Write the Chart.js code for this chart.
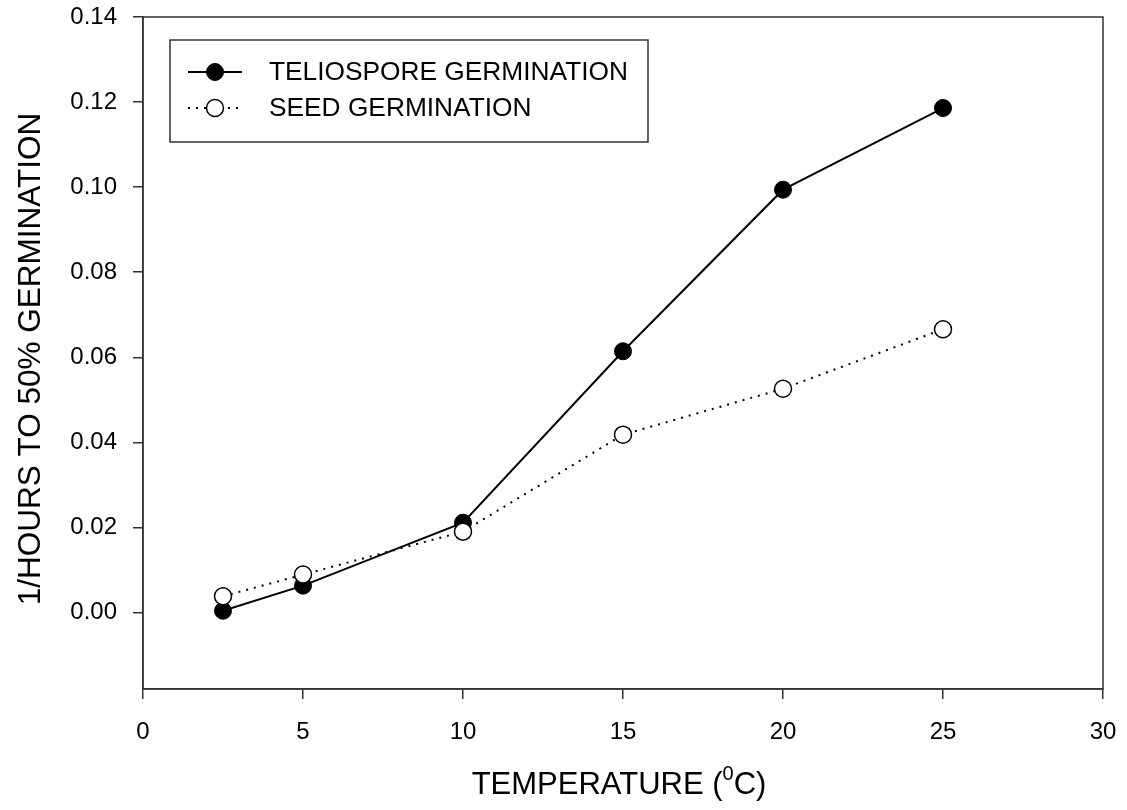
<!DOCTYPE html>
<html>
<head>
<meta charset="utf-8">
<script src="https://cdn.jsdelivr.net/npm/chart.js@4.4.0/dist/chart.umd.min.js"></script>
<style>
html,body{margin:0;padding:0;background:#fff;}
#wrap{width:1127px;height:810px;position:relative;}
</style>
</head>
<body>
<div id="wrap"><canvas id="c" width="1127" height="810"></canvas></div>
<script>
const temperatures = [2.5, 5, 10, 15, 20, 25];
const teliosporeRate = [0.0004, 0.0063, 0.0211, 0.0614, 0.0994, 0.1186];
const seedRate = [0.0038, 0.0089, 0.0190, 0.0418, 0.0526, 0.0666];
const xTicks = [0, 5, 10, 15, 20, 25, 30];
const yTicks = [0.00, 0.02, 0.04, 0.06, 0.08, 0.10, 0.12, 0.14];
const seriesNames = ['TELIOSPORE GERMINATION', 'SEED GERMINATION'];
const xTitle = 'TEMPERATURE (';
const xTitleSup = '0';
const xTitleEnd = 'C)';
const yTitle = '1/HOURS TO 50% GERMINATION';

const FONT = '"Liberation Sans", Arial, sans-serif';
const INK = '#000';
const AXIS = '#333';

const framePlugin = {
  id: 'frame',
  afterDraw(chart) {
    const {ctx, chartArea: a} = chart;
    ctx.save();
    ctx.strokeStyle = AXIS;
    ctx.lineWidth = 1.5;
    ctx.strokeRect(a.left, a.top, a.right - a.left, a.bottom - a.top);

    // axis titles
    ctx.fillStyle = INK;
    ctx.textBaseline = 'middle';
    ctx.font = '31px ' + FONT;
    const w1 = ctx.measureText(xTitle).width;
    ctx.font = '20px ' + FONT;
    const w2 = ctx.measureText(xTitleSup).width;
    ctx.font = '31px ' + FONT;
    const w3 = ctx.measureText(xTitleEnd).width;
    const total = w1 + w2 + w3;
    let x = 619 - total / 2;
    const ty = 785;
    ctx.textAlign = 'left';
    ctx.fillText(xTitle, x, ty);
    x += w1;
    ctx.font = '20px ' + FONT;
    ctx.fillText(xTitleSup, x, ty - 11);
    x += w2;
    ctx.font = '31px ' + FONT;
    ctx.fillText(xTitleEnd, x, ty);

    ctx.save();
    ctx.translate(31, 359);
    ctx.rotate(-Math.PI / 2);
    ctx.textAlign = 'center';
    ctx.font = '31.5px ' + FONT;
    ctx.fillText(yTitle, 0, 0);
    ctx.restore();

    // legend box
    const lx = 170, ly = 40, lw = 478, lh = 102;
    ctx.strokeStyle = AXIS;
    ctx.lineWidth = 1.5;
    ctx.strokeRect(lx, ly, lw, lh);
    const rows = [72, 108];
    chart.data.datasets.forEach((ds, i) => {
      const y = rows[i];
      ctx.save();
      ctx.strokeStyle = ds.borderColor;
      ctx.lineWidth = ds.borderWidth;
      ctx.setLineDash(ds.borderDash || []);
      ctx.beginPath();
      ctx.moveTo(188, y);
      ctx.lineTo(242, y);
      ctx.stroke();
      ctx.setLineDash([]);
      ctx.beginPath();
      ctx.arc(215, y, ds.pointRadius, 0, Math.PI * 2);
      ctx.fillStyle = ds.pointBackgroundColor;
      ctx.fill();
      ctx.lineWidth = ds.pointBorderWidth;
      ctx.strokeStyle = ds.pointBorderColor;
      ctx.stroke();
      ctx.restore();
      ctx.fillStyle = INK;
      ctx.font = '26.3px ' + FONT;
      ctx.textAlign = 'left';
      ctx.textBaseline = 'middle';
      ctx.fillText(ds.label, 269, y + 1);
    });
    ctx.restore();
  }
};

new Chart(document.getElementById('c'), {
  type: 'line',
  data: {
    datasets: [
      {
        label: seriesNames[0],
        data: temperatures.map((t, i) => ({x: t, y: teliosporeRate[i]})),
        borderColor: INK,
        borderWidth: 2,
        pointRadius: 8.5,
        pointBackgroundColor: INK,
        pointBorderColor: INK,
        pointBorderWidth: 1,
        order: 2
      },
      {
        label: seriesNames[1],
        data: temperatures.map((t, i) => ({x: t, y: seedRate[i]})),
        borderColor: INK,
        borderWidth: 2,
        borderDash: [2, 6],
        borderCapStyle: 'butt',
        pointRadius: 8.5,
        pointBackgroundColor: '#fff',
        pointBorderColor: INK,
        pointBorderWidth: 1.5,
        order: 1
      }
    ]
  },
  options: {
    responsive: false,
    animation: false,
    devicePixelRatio: 1,
    layout: {padding: {top: 17, right: 24, left: 0, bottom: 0}},
    plugins: {legend: {display: false}, tooltip: {enabled: false}},
    elements: {line: {tension: 0}},
    scales: {
      x: {
        type: 'linear',
        min: 0, max: 30,
        afterFit(s) { s.height = 121; s.paddingLeft = 0; s.paddingRight = 0; },
        afterBuildTicks(s) { s.ticks = xTicks.map(v => ({value: v})); },
        grid: {drawOnChartArea: false, drawTicks: true, tickLength: 10, color: AXIS, lineWidth: 1.5},
        border: {display: true, color: AXIS, width: 1.5},
        ticks: {color: INK, font: {family: FONT, size: 24}, padding: 19, maxRotation: 0,
          callback: v => String(v)}
      },
      y: {
        type: 'linear',
        min: -0.018, max: 0.14,
        afterFit(s) { s.width = 143; s.paddingTop = 0; s.paddingBottom = 0; },
        afterBuildTicks(s) { s.ticks = yTicks.map(v => ({value: v})); },
        grid: {drawOnChartArea: false, drawTicks: true, tickLength: 10, color: AXIS, lineWidth: 1.5},
        border: {display: true, color: AXIS, width: 1.5},
        ticks: {color: INK, font: {family: FONT, size: 24}, padding: 16,
          callback: v => Number(v).toFixed(2)}
      }
    }
  },
  plugins: [framePlugin]
});
</script>
</body>
</html>
